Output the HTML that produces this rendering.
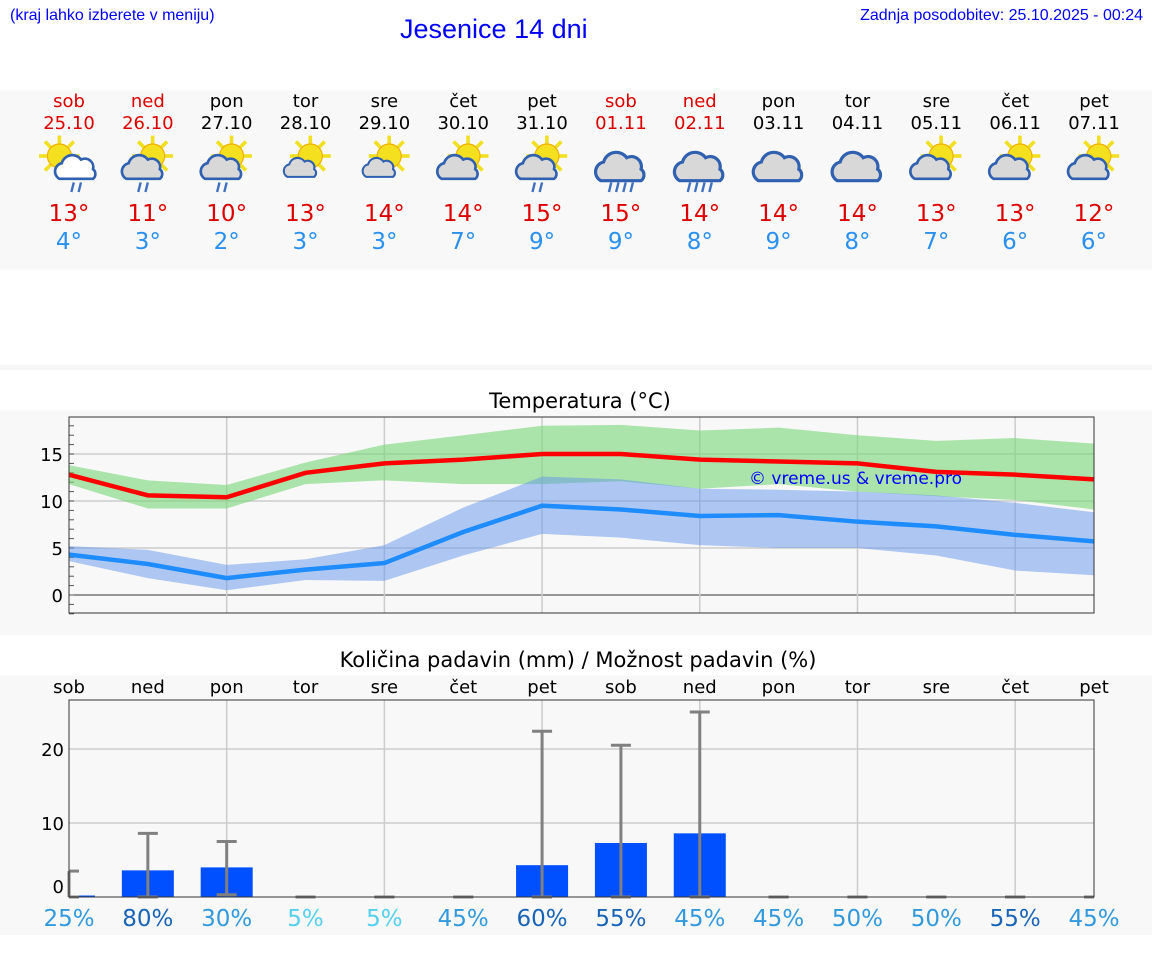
<!DOCTYPE html>
<html><head><meta charset="utf-8">
<style>
body{margin:0;width:1152px;height:975px;background:#fff;font-family:"DejaVu Sans","Liberation Sans",sans-serif;position:relative;overflow:hidden}
.abs{position:absolute}
</style></head>
<body>
<div class="abs" style="left:10px;top:7px;font-size:16px;color:#00f;font-family:'Liberation Sans',sans-serif">(kraj lahko izberete v meniju)</div>
<div class="abs" style="left:400px;top:14px;font-size:27px;color:#00f;font-family:'Liberation Sans',sans-serif">Jesenice 14 dni</div>
<div class="abs" style="right:9px;top:7px;font-size:16px;color:#00f;font-family:'Liberation Sans',sans-serif">Zadnja posodobitev: 25.10.2025 - 00:24</div>
<div class="abs" style="left:0;top:90px;width:1152px;height:180px;background:#f8f8f8"></div>
<div class="abs" style="left:0;top:365px;width:1152px;height:5px;background:#f6f6f6"></div>
<div class="abs" style="left:0;top:410px;width:1152px;height:225px;background:#f8f8f8"></div>
<div class="abs" style="left:0;top:675px;width:1152px;height:260px;background:#f8f8f8"></div>
<svg class="abs" style="left:0;top:0" width="1152" height="975" id="svg"></svg>
<script>
const days=["sob","ned","pon","tor","sre","čet","pet","sob","ned","pon","tor","sre","čet","pet"];
const dates=["25.10","26.10","27.10","28.10","29.10","30.10","31.10","01.11","02.11","03.11","04.11","05.11","06.11","07.11"];
const weekend=[1,1,0,0,0,0,0,1,1,0,0,0,0,0];
const icons=["sunrain","sunrain","sunrain","sun","sun","sunc","sunrain","rain","rain","cloud","cloud","sunc","sunc","sunc"];
const tmax=[13,11,10,13,14,14,15,15,14,14,14,13,13,12];
const tmin=[4,3,2,3,3,7,9,9,8,9,8,7,6,6];
const maxLine=[12.8,10.6,10.4,13,14,14.4,15,15,14.4,14.2,14,13.1,12.8,12.3];
const maxHi=[13.8,12.2,11.7,14.1,16,17,18,18.1,17.5,17.8,17,16.4,16.7,16.1];
const maxLo=[11.8,9.2,9.2,11.8,12.2,11.8,11.8,12.1,11.3,11.8,11,10.5,10.1,9.1];
const minLine=[4.3,3.3,1.8,2.7,3.4,6.7,9.5,9.1,8.4,8.5,7.8,7.3,6.4,5.7];
const minHi=[5.2,4.8,3.2,3.8,5.3,9.3,12.6,12.3,11.3,11.2,11,10.6,9.8,8.8];
const minLo=[3.6,1.8,0.5,1.6,1.5,4.2,6.5,6.1,5.3,5,5,4.2,2.6,2.1];
const precip=[0.2,3.6,4.0,0,0,0,4.3,7.3,8.6,0,0,0,0,0];
const precipHi=[3.5,8.6,7.5,0,0,0,22.4,20.5,25,0,0,0,0,0];
const precipLo=[0,0,0.3,0,0,0,0,0,0,0,0,0,0,0];
const prob=[25,80,30,5,5,45,60,55,45,45,50,50,55,45];
const tTicks=[0,5,10,15];
const pTicks=[0,10,20];

const svg=document.getElementById('svg');
const NS='http://www.w3.org/2000/svg';
function mk(t,a,p){const e=document.createElementNS(NS,t);for(const k in a)e.setAttribute(k,a[k]);(p||svg).appendChild(e);return e;}
const X=i=>69+i*(1094-69)/13;
const TY=v=>595-v*9.4;
const PY=v=>897-v*7.4;

days.forEach((d,i)=>{
  const c=weekend[i]?'#d00':'#000';
  let t=mk('text',{x:X(i),y:107,'text-anchor':'middle','font-size':18,fill:c});t.textContent=d;
  
  t=mk('text',{x:X(i),y:129,'text-anchor':'middle','font-size':18,fill:c});t.textContent=dates[i];
  
  const g=mk('g',{transform:`translate(${X(i)},162) scale(1.2)`});
  
  const ic=icons[i];
  if(ic!=='rain'&&ic!=='cloud'){
    const sx=ic==='sunrain'&&i===0?-8:4, sy=-5;
    for(let k=0;k<8;k++){const a=k*Math.PI/4;mk('line',{x1:sx+Math.cos(a)*10,y1:sy+Math.sin(a)*10,x2:sx+Math.cos(a)*17,y2:sy+Math.sin(a)*17,stroke:'#f0e020','stroke-width':3},g);}
    mk('circle',{cx:sx,cy:sy,r:10,fill:'#f5e020',stroke:'#f0b000','stroke-width':1},g);
  }
  const cf=i===0?'#fff':'#d8d8d8';
  const cs=(ic==='rain'||ic==='cloud')?1.2:(ic==='sun'?0.8:1);
  const cx=(ic==='rain'||ic==='cloud')?0:(i===0?6:-4);
  const cl=mk('g',{transform:`translate(${cx},6) scale(${cs})`},g);
  mk('path',{d:'M-14,8 a7,7 0 0 1 2,-13 a9,9 0 0 1 16,-3 a7,7 0 0 1 10,8 a5,5 0 0 1 0,8 z',fill:cf,stroke:'#3060b0','stroke-width':2.2},cl);
  if(ic==='sunrain'||ic==='rain'){
    const n=ic==='rain'?4:2;
    for(let k=0;k<n;k++){const rx=-(n-1)*3+k*6+cx;mk('line',{x1:rx+1,y1:17,x2:rx-1,y2:25,stroke:'#4070c0','stroke-width':2},g);}
  }
  t=mk('text',{x:X(i),y:221,'text-anchor':'middle','font-size':23,fill:'#d00'});t.textContent=tmax[i]+'°';
  
  t=mk('text',{x:X(i),y:249,'text-anchor':'middle','font-size':23,fill:'#2a90f0'});t.textContent=tmin[i]+'°';
  
});

let t=mk('text',{x:580,y:408,'text-anchor':'middle','font-size':21});t.textContent='Temperatura (°C)';

mk('rect',{x:69,y:417,width:1025,height:196,fill:'#f8f8f8'});
tTicks.forEach(v=>{mk('line',{x1:69,x2:1094,y1:TY(v),y2:TY(v),stroke:v===0?'#333':'#ccc','stroke-width':v===0?1:1.5});
  const l=mk('text',{x:63,y:TY(v)+7,'text-anchor':'end','font-size':18});l.textContent=v;
  });
for(let v=-2;v<=18;v++)mk('line',{x1:69,x2:74,y1:TY(v),y2:TY(v),stroke:'#555'});
for(let i=2;i<13;i+=2)mk('line',{x1:X(i),x2:X(i),y1:417,y2:613,stroke:'#ccc','stroke-width':1.5});
function band(hi,lo,fill,name){let d='M'+hi.map((v,i)=>X(i)+','+TY(v)).join('L')+'L'+lo.map((v,i)=>X(i)+','+TY(v)).reverse().join('L')+'Z';
  const p=mk('path',{d,fill});}
band(maxHi,maxLo,'rgba(120,215,120,0.6)','max-temp-range');
band(minHi,minLo,'rgba(100,150,235,0.5)','min-temp-range');
function line(a,c,name){const p=mk('polyline',{points:a.map((v,i)=>X(i)+','+TY(v)).join(' '),fill:'none',stroke:c,'stroke-width':4.5});
  }
line(maxLine,'#f00','max-temp-line');line(minLine,'#1e8cff','min-temp-line');
mk('rect',{x:69,y:417,width:1025,height:196,fill:'none',stroke:'#333'});
t=mk('text',{x:749,y:484,'font-size':17,fill:'#00f'});t.textContent='© vreme.us & vreme.pro';


t=mk('text',{x:578,y:667,'text-anchor':'middle','font-size':21});t.textContent='Količina padavin (mm) / Možnost padavin (%)';

days.forEach((d,i)=>{const l=mk('text',{x:X(i),y:693,'text-anchor':'middle','font-size':18});l.textContent=d;
  });
pTicks.forEach(v=>{if(v>0)mk('line',{x1:69,x2:1094,y1:PY(v),y2:PY(v),stroke:'#ccc','stroke-width':1.5});
  const l=mk('text',{x:64,y:PY(v)+(v===0?-4:7),'text-anchor':'end','font-size':18});l.textContent=v;
  });
for(let i=2;i<13;i+=2)mk('line',{x1:X(i),x2:X(i),y1:700,y2:897,stroke:'#ccc','stroke-width':1.5});
precip.forEach((v,i)=>{
  if(v>0){const x0=Math.max(69,X(i)-26),x1=Math.min(1094,X(i)+26);
    const b=mk('rect',{x:x0,y:PY(v),width:x1-x0,height:897-PY(v),fill:'#0050ff'});
    }
  const e=mk('g',{stroke:'#808080','stroke-width':3});
  
  mk('line',{x1:X(i),x2:X(i),y1:PY(precipHi[i]),y2:PY(precipLo[i])},e);
  mk('line',{x1:Math.max(69,X(i)-10),x2:Math.min(1094,X(i)+10),y1:PY(precipHi[i]),y2:PY(precipHi[i])},e);
  mk('line',{x1:Math.max(69,X(i)-10),x2:Math.min(1094,X(i)+10),y1:PY(precipLo[i]),y2:PY(precipLo[i])},e);
  const pc=prob[i]>=55?'#1a64b8':prob[i]>=25?'#3399dd':'#55d0ee';
  const l=mk('text',{x:X(i),y:926,'text-anchor':'middle','font-size':23,fill:pc});l.textContent=prob[i]+'%';
  
});
mk('rect',{x:69,y:700,width:1025,height:197,fill:'none',stroke:'#333'});
</script>
</body></html>
